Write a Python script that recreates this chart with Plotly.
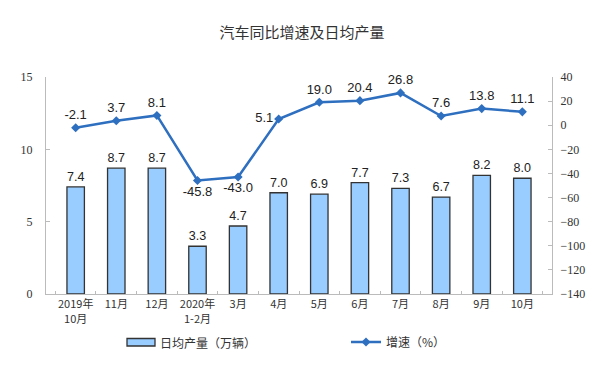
import plotly.graph_objects as go

categories = ["2019年<br>10月", "11月", "12月", "2020年<br>1-2月", "3月", "4月",
              "5月", "6月", "7月", "8月", "9月", "10月"]
daily_output = [7.4, 8.7, 8.7, 3.3, 4.7, 7.0, 6.9, 7.7, 7.3, 6.7, 8.2, 8.0]
growth = [-2.1, 3.7, 8.1, -45.8, -43.0, 5.1, 19.0, 20.4, 26.8, 7.6, 13.8, 11.1]
growth_label_pos = ["top center", "top center", "top center", "bottom center",
                    "bottom center", "middle left", "top center", "top center",
                    "top center", "top center", "top center", "top center"]

label_font = dict(family="Liberation Sans, Arial", size=13, color="#222")
tick_font = dict(family="Liberation Serif, Times New Roman", size=12, color="#333")
cjk_font = dict(family="Noto Sans CJK SC", size=11, color="#333")

OFF = 8  # page body margin offset
W, H = 600, 374
pw, ph = 506, 217
L, T = 46 - OFF, 77 - OFF
R, B = W - L - pw, H - T - ph

def px(x):
    return (x - OFF - L) / pw

def py(y):
    return (T + ph - (y - OFF)) / ph

fig = go.Figure()
fig.add_trace(go.Bar(
    x=categories, y=daily_output, name="日均产量（万辆）",
    marker=dict(color="#99CCFF", line=dict(color="#333333", width=1.3)),
    text=[f"{v:.1f}" for v in daily_output], textposition="outside",
    textfont=label_font, cliponaxis=False, showlegend=False,
))
fig.add_trace(go.Scatter(
    x=categories, y=growth, name="增速（%）", yaxis="y2",
    mode="lines+markers+text",
    line=dict(color="#2E6FC0", width=2.5),
    marker=dict(symbol="diamond", size=7, color="#2E6FC0"),
    text=[f"{v:.1f}" for v in growth], textposition=growth_label_pos,
    textfont=label_font, cliponaxis=False, legend="legend",
))

# legend swatch for bars
fig.add_shape(type="rect", xref="paper", yref="paper",
              x0=px(127), x1=px(155), y0=py(338.5), y1=py(346),
              fillcolor="#99CCFF", line=dict(color="#333333", width=1.3))
fig.add_annotation(text="日均产量（万辆）", xref="paper", yref="paper",
                   x=px(158), y=py(342), xanchor="left", yanchor="middle",
                   showarrow=False,
                   font=dict(family="Noto Sans CJK SC", size=12, color="#333"))

fig.update_layout(
    width=W, height=H,
    margin=dict(l=L, r=R, t=T, b=B),
    paper_bgcolor="white", plot_bgcolor="white",
    title=dict(text="汽车同比增速及日均产量", x=(302 - OFF) / W, xanchor="center",
               y=1 - (33 - OFF) / H, yanchor="middle",
               font=dict(family="Noto Sans CJK SC", size=15, color="#333")),
    bargap=0.57,
    showlegend=True,
    xaxis=dict(showline=True, linecolor="#BBBBBB", linewidth=1, ticks="inside",
               ticklen=3, tickcolor="#BBBBBB", tickson="boundaries", tickangle=0,
               automargin=False, tickfont=cjk_font, showgrid=False),
    yaxis=dict(range=[0, 15], dtick=5, showline=True, linecolor="#BBBBBB",
               ticks="inside", ticklen=4, tickcolor="#BBBBBB", automargin=False,
               ticklabelstandoff=10,
               tickfont=tick_font, showgrid=False, zeroline=False),
    yaxis2=dict(range=[-140, 40], dtick=20, overlaying="y", side="right",
                showline=True, linecolor="#BBBBBB", ticks="inside", ticklen=4,
                automargin=False, ticklabelstandoff=5,
                tickcolor="#BBBBBB", tickfont=tick_font, showgrid=False, zeroline=False),
    legend=dict(x=px(346), y=py(342), xanchor="left", yanchor="middle", orientation="h",
                font=dict(family="Noto Sans CJK SC", size=12, color="#333"),
                bgcolor="rgba(0,0,0,0)"),
)

fig.write_html("out.html")
